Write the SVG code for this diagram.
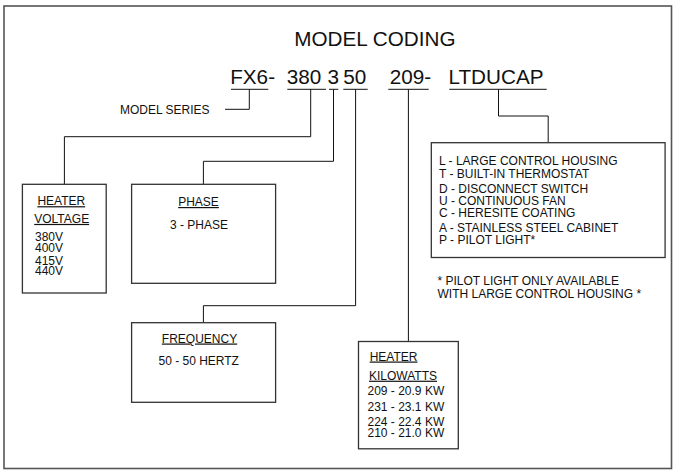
<svg xmlns="http://www.w3.org/2000/svg" width="674" height="470" viewBox="0 0 674 470">
<style>
text{font-family:"Liberation Sans",Arial,sans-serif;fill:#111}
.t{font-size:20.7px}
.s{font-size:12px}
.u{text-decoration:underline}
.m{text-anchor:middle}
.box{fill:#fff;stroke:#333;stroke-width:1.3}
.c{fill:none;stroke:#111;stroke-width:1}
.ul{stroke:#111;stroke-width:1}
</style>
<rect x="4" y="6" width="667.5" height="462.5" fill="none" stroke="#555" stroke-width="1.6"/>
<g id="title">
<text class="t" x="294.2" y="46">MODEL CODING</text>
</g>
<g id="code">
<text class="t" x="230.2" y="84.3">FX6-</text>
<text class="t" x="286.8" y="84.3">380</text>
<text class="t" x="327.5" y="84.3">3</text>
<text class="t" x="343.2" y="84.3">50</text>
<text class="t" x="389.8" y="84.3">209-</text>
<text class="t" x="448.5" y="84.3">LTDUCAP</text>
<g class="ul">
<line x1="231" y1="89.3" x2="268.3" y2="89.3"/>
<line x1="287.3" y1="89.3" x2="326" y2="89.3"/>
<line x1="329" y1="89.3" x2="338.3" y2="89.3"/>
<line x1="343.3" y1="89.3" x2="367.7" y2="89.3"/>
<line x1="388.3" y1="89.3" x2="428.7" y2="89.3"/>
<line x1="449.3" y1="89.3" x2="546.7" y2="89.3"/>
</g>
</g>
<g id="connectors" class="c">
<polyline points="249.3,89.3 249.3,109.3 225,109.3"/>
<polyline points="310.7,89.3 310.7,136.7 64.4,136.7 64.4,184.3"/>
<polyline points="333.5,89.3 333.5,161.3 203.4,161.3 203.4,184.3"/>
<polyline points="355.6,89.3 355.6,305.7 203.4,305.7 203.4,322.7"/>
<polyline points="408.4,89.3 408.4,341.5"/>
<polyline points="498.5,89.3 498.5,116 548.2,116 548.2,142.7"/>
</g>
<g id="model-series">
<text class="s" x="120" y="114.3">MODEL SERIES</text>
</g>
<g id="heater-voltage">
<rect class="box" x="22.4" y="184.3" width="83.8" height="108.7"/>
<text class="s u m" x="61.3" y="205.2">HEATER</text>
<text class="s u m" x="61.7" y="222.9">VOLTAGE</text>
<text class="s" x="35" y="240.5">380V</text>
<text class="s" x="35" y="251.7">400V</text>
<text class="s" x="35" y="264.8">415V</text>
<text class="s" x="35" y="275">440V</text>
</g>
<g id="phase">
<rect class="box" x="131.6" y="184.3" width="144" height="99"/>
<text class="s u m" x="198.5" y="206">PHASE</text>
<text class="s m" x="199" y="229.3">3 - PHASE</text>
</g>
<g id="frequency">
<rect class="box" x="131.6" y="322.7" width="144" height="79.6"/>
<text class="s u m" x="199.5" y="342.5">FREQUENCY</text>
<text class="s m" x="198.7" y="365">50 - 50 HERTZ</text>
</g>
<g id="heater-kilowatts">
<rect class="box" x="358.5" y="341.5" width="99.8" height="107.3"/>
<text class="s u" x="369.7" y="360.5">HEATER</text>
<text class="s u" x="369" y="379.7">KILOWATTS</text>
<text class="s" x="367.5" y="395">209 - 20.9 KW</text>
<text class="s" x="367.5" y="410.7">231 - 23.1 KW</text>
<text class="s" x="367.5" y="425.5">224 - 22.4 KW</text>
<text class="s" x="367.5" y="436.5">210 - 21.0 KW</text>
</g>
<g id="options">
<rect class="box" x="431.3" y="142.7" width="233.8" height="114.8"/>
<text class="s" x="439" y="165.3">L - LARGE CONTROL HOUSING</text>
<text class="s" x="439" y="178">T - BUILT-IN THERMOSTAT</text>
<text class="s" x="439" y="193">D - DISCONNECT SWITCH</text>
<text class="s" x="439" y="205">U - CONTINUOUS FAN</text>
<text class="s" x="439" y="217">C - HERESITE COATING</text>
<text class="s" x="439" y="231.7">A - STAINLESS STEEL CABINET</text>
<text class="s" x="439" y="244">P - PILOT LIGHT*</text>
</g>
<g id="footnote">
<text class="s" x="437.5" y="284.5">* PILOT LIGHT ONLY AVAILABLE</text>
<text class="s" x="437.5" y="298">WITH LARGE CONTROL HOUSING *</text>
</g>
</svg>
